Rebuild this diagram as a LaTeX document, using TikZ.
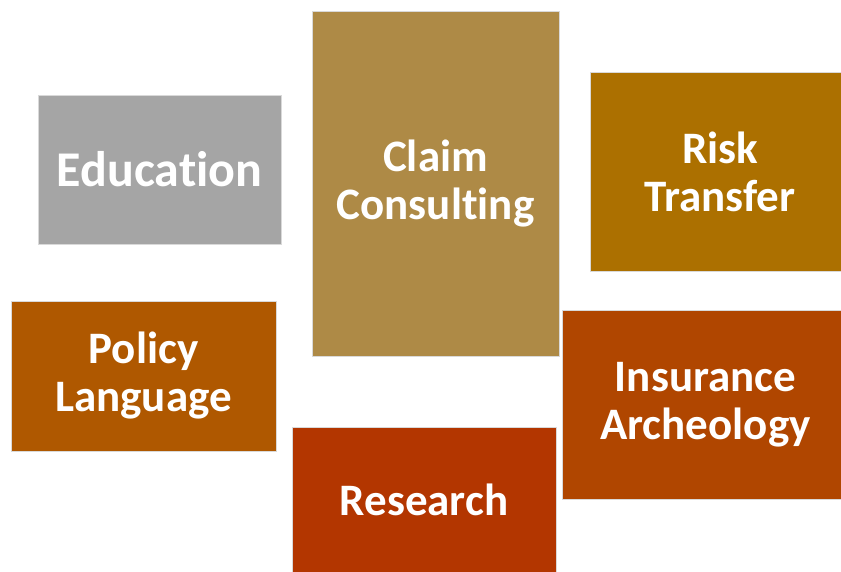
\documentclass[tikz,border=0pt]{standalone}
\usepackage{fontspec}
\setmainfont[Ligatures=NoCommon]{Carlito}
\definecolor{cEdu}{HTML}{A5A5A5}
\definecolor{cClaim}{HTML}{AE8A46}
\definecolor{cRisk}{HTML}{AC7000}
\definecolor{cPolicy}{HTML}{AF5800}
\definecolor{cIns}{HTML}{B04600}
\definecolor{cRes}{HTML}{B33600}
\tikzset{
  tile/.style={rectangle, inner sep=0pt, draw=white!85!black, line width=0.6pt,
    text=white, align=center,
    font=\fontsize{45}{48}\selectfont\bfseries}
}
\begin{document}
\begin{tikzpicture}[x=1pt,y=-1pt]
\useasboundingbox[fill=white] (0,0) rectangle (841,571);
\begin{scope}
\clip (0,0) rectangle (841,571);
\node[tile, fill=cEdu, minimum width=243pt, minimum height=149pt,
  font=\fontsize{50}{52}\selectfont\bfseries] (edu) at (159.5,169.5) {Education};
\node[tile, fill=cClaim, minimum width=247pt, minimum height=345pt] (claim) at (435.5,183.5) {Claim\\Consulting};
\node[tile, fill=cRisk, minimum width=260pt, minimum height=199pt] (risk) at (720,171.5) {Risk\\Transfer};
\node[tile, fill=cPolicy, minimum width=265pt, minimum height=150pt] (policy) at (143.5,376) {Policy\\Language};
\node[tile, fill=cIns, minimum width=287pt, minimum height=189pt] (ins) at (705.5,404.5) {Insurance\\Archeology};
\node[tile, fill=cRes, minimum width=264pt, minimum height=146pt] (res) at (424,500) {Research};
\end{scope}
\end{tikzpicture}
\end{document}
